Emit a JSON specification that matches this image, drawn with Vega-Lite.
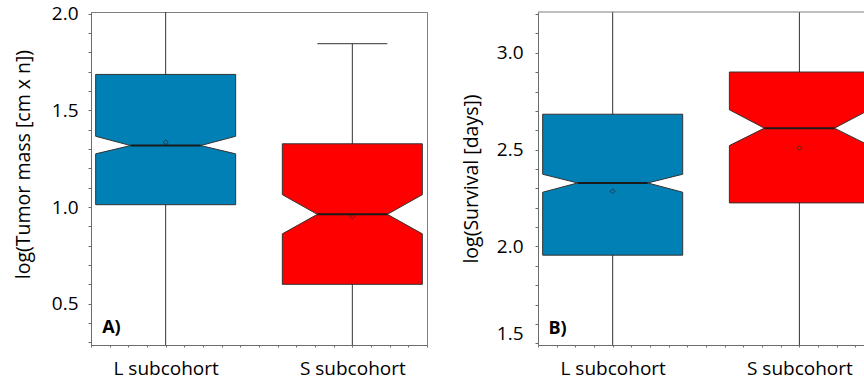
{
  "$schema": "https://vega.github.io/schema/vega-lite/v6.json",
  "padding": {"left": 12, "top": 4, "right": 0, "bottom": 0},
  "background": "white",
  "bounds": "flush",
  "config": {
    "font": "Open Sans",
    "view": {"stroke": "#7f7f7f", "strokeWidth": 1},
    "axis": {"grid": false, "labelFont": "Open Sans", "titleFont": "Open Sans", "labelFontSize": 19, "titleFontSize": 19.5, "titleFontWeight": "normal", "labelColor": "#000", "titleColor": "#000", "domainColor": "#6b6b6b", "tickColor": "#6b6b6b", "labelOverlap": false, "tickCount": 100},
    "concat": {"spacing": 111}
  },
  "hconcat": [
    {
      "width": 336, "height": 333,
      "data": {"values": [
        {"cohort": "L", "pos": 1, "q1": 1.012, "nlo": 1.275, "med": 1.318, "nhi": 1.366, "q3": 1.686, "mean": 1.335, "wlo": 0.2, "whi": 2.1},
        {"cohort": "S", "pos": 2, "q1": 0.600, "nlo": 0.861, "med": 0.962, "nhi": 1.064, "q3": 1.327, "mean": 0.952, "wlo": 0.2, "whi": 1.845}
      ]},
      "layer": [
        {
          "mark": {"type": "rule", "clip": true, "color": "#333", "strokeWidth": 1},
          "encoding": {
            "x": {"field": "pos", "type": "quantitative", "scale": {"domain": [0.6, 2.4], "nice": false, "zero": false},
              "axis": {"title": null, "values": [0.6,0.7,0.8,0.9,1,1.1,1.2,1.3,1.4,1.5,1.6,1.7,1.8,1.9,2,2.1,2.2,2.3,2.4], "tickCount": 100, "tickSize": 2, "labelPadding": 12, "labelOverlap": false, "labelExpr": "datum.value == 1 ? 'L subcohort' : datum.value == 2 ? 'S subcohort' : ''"}},
            "y": {"field": "wlo", "type": "quantitative", "scale": {"domain": [0.286, 2.009], "nice": false, "zero": false},
              "axis": {"title": "log(Tumor mass [cm x n])", "titleY": 152, "values": [0.3,0.4,0.5,0.6,0.7,0.8,0.9,1.0,1.1,1.2,1.3,1.4,1.5,1.6,1.7,1.8,1.9,2.0], "tickCount": 100, "tickSize": 3, "labelPadding": 10, "titlePadding": 18, "labelOverlap": false, "labelExpr": "round(datum.value*10) % 5 == 0 ? format(datum.value, '.1f') : ''"}},
            "y2": {"field": "whi"}
          }
        },
        {
          "transform": [{"calculate": "datum.pos - 0.1875", "as": "cl"}, {"calculate": "datum.pos + 0.1875", "as": "cr"}],
          "mark": {"type": "rule", "clip": true, "color": "#333", "strokeWidth": 1},
          "encoding": {"x": {"field": "cl", "type": "quantitative"}, "x2": {"field": "cr"}, "y": {"field": "whi", "type": "quantitative"}}
        },
        {
          "transform": [
            {"fold": ["q1", "nlo", "med", "nhi", "q3"], "as": ["stat", "value"]},
            {"calculate": "datum.stat == 'med' ? 0.1875 : 0.375", "as": "half"},
            {"calculate": "datum.pos - datum.half", "as": "xl"},
            {"calculate": "datum.pos + datum.half", "as": "xr"}
          ],
          "mark": {"type": "area", "orient": "horizontal", "clip": true, "stroke": "#333", "strokeWidth": 1, "fillOpacity": 1},
          "encoding": {
            "y": {"field": "value", "type": "quantitative"},
            "x": {"field": "xl", "type": "quantitative"},
            "x2": {"field": "xr"},
            "color": {"field": "cohort", "type": "nominal", "scale": {"domain": ["L", "S"], "range": ["#0080b4", "#ff0000"]}, "legend": null}
          }
        },
        {
          "transform": [{"calculate": "datum.pos - 0.1875", "as": "cl"}, {"calculate": "datum.pos + 0.1875", "as": "cr"}],
          "mark": {"type": "rule", "clip": true, "color": "#1a1a1a", "strokeWidth": 2},
          "encoding": {"x": {"field": "cl", "type": "quantitative"}, "x2": {"field": "cr"}, "y": {"field": "med", "type": "quantitative"}}
        },
        {
          "mark": {"type": "point", "shape": "diamond", "size": 24, "filled": false, "color": "#222", "strokeWidth": 1, "clip": true},
          "encoding": {"x": {"field": "pos", "type": "quantitative"}, "y": {"field": "mean", "type": "quantitative"}}
        },
        {
          "data": {"values": [{"t": "A)"}]},
          "mark": {"type": "text", "align": "left", "baseline": "middle", "fontWeight": "bold", "fontSize": 18, "font": "Open Sans", "color": "#000"},
          "encoding": {"x": {"datum": 0.66}, "y": {"datum": 0.375}, "text": {"field": "t"}}
        }
      ]
    },
    {
      "width": 326, "height": 333,
      "view": {"stroke": null},
      "data": {"values": [
        {"cohort": "L", "pos": 1, "q1": 1.955, "nlo": 2.280, "med": 2.328, "nhi": 2.373, "q3": 2.683, "mean": 2.285, "wlo": 1.4, "whi": 3.3},
        {"cohort": "S", "pos": 2, "q1": 2.225, "nlo": 2.521, "med": 2.611, "nhi": 2.706, "q3": 2.901, "mean": 2.509, "wlo": 1.4, "whi": 3.3}
      ]},
      "layer": [
        {
          "mark": {"type": "rule", "clip": true, "color": "#333", "strokeWidth": 1},
          "encoding": {
            "x": {"field": "pos", "type": "quantitative", "scale": {"domain": [0.6, 2.346], "nice": false, "zero": false},
              "axis": {"title": null, "values": [0.6,0.7,0.8,0.9,1,1.1,1.2,1.3,1.4,1.5,1.6,1.7,1.8,1.9,2,2.1,2.2,2.3], "tickCount": 100, "tickSize": 2, "labelPadding": 12, "labelOverlap": false, "labelExpr": "datum.value == 1 ? 'L subcohort' : datum.value == 2 ? 'S subcohort' : ''"}},
            "y": {"field": "wlo", "type": "quantitative", "scale": {"domain": [1.491, 3.211], "nice": false, "zero": false},
              "axis": {"title": "log(Survival [days])", "values": [1.5,1.6,1.7,1.8,1.9,2.0,2.1,2.2,2.3,2.4,2.5,2.6,2.7,2.8,2.9,3.0,3.1,3.2], "tickCount": 100, "tickSize": 3, "labelPadding": 12, "titlePadding": 15, "labelFlush": 3, "labelOverlap": false, "labelExpr": "round(datum.value*10) % 5 == 0 ? format(datum.value, '.1f') : ''"}},
            "y2": {"field": "whi"}
          }
        },
        {
          "transform": [
            {"fold": ["q1", "nlo", "med", "nhi", "q3"], "as": ["stat", "value"]},
            {"calculate": "datum.stat == 'med' ? 0.1875 : 0.375", "as": "half"},
            {"calculate": "datum.pos - datum.half", "as": "xl"},
            {"calculate": "datum.pos + datum.half", "as": "xr"}
          ],
          "mark": {"type": "area", "orient": "horizontal", "clip": true, "stroke": "#333", "strokeWidth": 1, "fillOpacity": 1},
          "encoding": {
            "y": {"field": "value", "type": "quantitative"},
            "x": {"field": "xl", "type": "quantitative"},
            "x2": {"field": "xr"},
            "color": {"field": "cohort", "type": "nominal", "scale": {"domain": ["L", "S"], "range": ["#0080b4", "#ff0000"]}, "legend": null}
          }
        },
        {
          "transform": [{"calculate": "datum.pos - 0.1875", "as": "cl"}, {"calculate": "datum.pos + 0.1875", "as": "cr"}],
          "mark": {"type": "rule", "clip": true, "color": "#1a1a1a", "strokeWidth": 2},
          "encoding": {"x": {"field": "cl", "type": "quantitative"}, "x2": {"field": "cr"}, "y": {"field": "med", "type": "quantitative"}}
        },
        {
          "mark": {"type": "point", "shape": "diamond", "size": 24, "filled": false, "color": "#222", "strokeWidth": 1, "clip": true},
          "encoding": {"x": {"field": "pos", "type": "quantitative"}, "y": {"field": "mean", "type": "quantitative"}}
        },
        {
          "data": {"values": [{"top": 3.211}]},
          "mark": {"type": "rule", "color": "#7f7f7f", "strokeWidth": 1},
          "encoding": {"y": {"field": "top", "type": "quantitative"}}
        },
        {
          "data": {"values": [{"t": "B)"}]},
          "mark": {"type": "text", "align": "left", "baseline": "middle", "fontWeight": "bold", "fontSize": 18, "font": "Open Sans", "color": "#000"},
          "encoding": {"x": {"datum": 0.656}, "y": {"datum": 1.576}, "text": {"field": "t"}}
        }
      ]
    }
  ]
}
